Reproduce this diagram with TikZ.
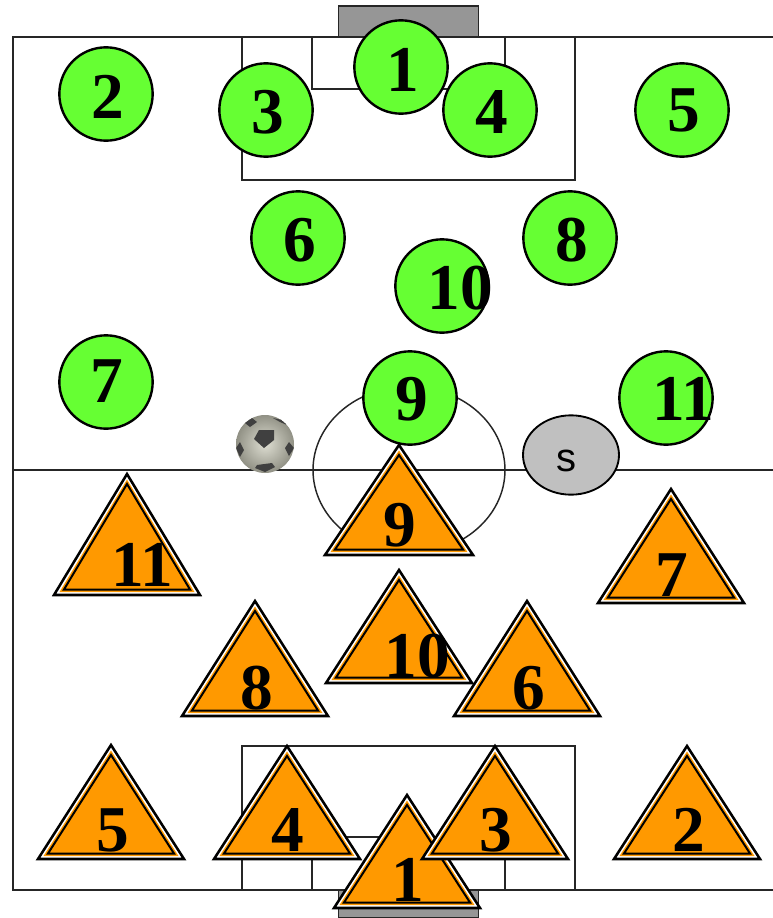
\documentclass[tikz,border=0pt]{standalone}
\usepackage{fontspec}
\usetikzlibrary{shapes.geometric}
\setmainfont{Liberation Serif}
\newfontfamily\labelsans{Liberation Sans}
\definecolor{pgreen}{HTML}{66FF33}
\definecolor{porange}{HTML}{FF9900}
\definecolor{goalgray}{HTML}{969696}
\definecolor{subgray}{HTML}{C0C0C0}
\definecolor{balllight}{HTML}{DEDED2}
\definecolor{balldark}{HTML}{8E8E82}
\tikzset{
  fieldline/.style={draw=black!85,line width=1.1pt},
  goalbox/.style={fieldline,fill=goalgray},
  greenplayer/.style={circle,draw=black,line width=1.8pt,fill=pgreen,minimum size=70pt,inner sep=0pt},
  digit/.style={inner sep=0pt,font=\fontsize{49}{49}\selectfont\bfseries},
  ballspot/.style={fill=black!75},
}
% \tri{name}{apex x}{apex y}{base y}{half width}{number x}{number y}{number}
\newcommand{\tri}[8]{%
  \path[fill=white,draw=black,line width=1.9pt,line join=miter] (#2,#3) -- (#2-#5,#4) -- (#2+#5,#4) -- cycle;
  \path[fill=porange,draw=none] (#2,#3+5.5) -- (#2-#5+5.5,#4-3) -- (#2+#5-5.5,#4-3) -- cycle;
  \path[fill=porange,draw=black,line width=1.5pt,line join=miter] (#2,#3+10) -- (#2-#5+10,#4-5.5) -- (#2+#5-10,#4-5.5) -- cycle;
  \node[digit] (#1n) at (#6,#7) {#8};
}
\begin{document}
\begin{tikzpicture}[x=0.75pt,y=-0.75pt]
\useasboundingbox (0,0) rectangle (773,918);
% field
\draw[fieldline] (773,37) -- (13,37) -- (13,890) -- (773,890);
\draw[fieldline] (13,470) -- (773,470);
\draw[fieldline] (409,470) ellipse[x radius=96,y radius=83.5];
\draw[fieldline] (242,37) rectangle (575,180);
\draw[fieldline] (312,37) rectangle (505,89);
\draw[fieldline] (242,746) rectangle (575,890);
\draw[fieldline] (312,837) rectangle (505,890);
\draw[goalbox] (338.5,6) rectangle (478.5,37);
\draw[goalbox] (338.5,890) rectangle (478.5,918);
% ball
\begin{scope}
\clip (265,444) circle[radius=29];
\shade[inner color=balllight,outer color=balldark] (265,444) circle[radius=30];
\fill[ballspot] (259,430) -- (274,430) -- (274,440) -- (264,448) -- (254,439) -- cycle;
\fill[ballspot] (240,442) -- (244,450) -- (240,457) -- (236,448) -- cycle;
\fill[ballspot] (289,442) -- (294,448) -- (289,456) -- (285,448) -- cycle;
\fill[ballspot] (257,465) -- (272,463) -- (275,467) -- (265,472) -- (255,468) -- cycle;
\fill[ballspot] (245,423) -- (252,418) -- (257,422) -- (250,427) -- cycle;
\fill[ballspot] (273,418) -- (282,420) -- (287,425) -- (280,422) -- cycle;
\end{scope}
% substitute
\node[ellipse,draw=black,line width=1.4pt,fill=subgray,minimum width=72pt,minimum height=59.5pt,inner sep=0pt] (sub) at (571,455) {};
\node[inner sep=0pt,font=\labelsans\fontsize{30}{30}\selectfont] (subt) at (566,461) {s};
% green players
\foreach \n/\x/\y/\tx/\ty/\lab in {c1/401/67/403/70/1,c3/266/110/268/112/3,c4/490/110/492/112/4,c2/106/94/108/97/2,c5/682/110/684/110/5,c6/298/238/300/240/6,c8/570/238/572/240/8,c10/442/286/460/288/10,c7/106/382/107/381/7,c9/410/398/412/399/9,c11/666/398/683/399/11}{
  \node[greenplayer] (\n) at (\x,\y) {};
  \node[digit] (\n t) at (\tx,\ty) {\lab};
}
% orange players
\tri{t11}{127}{474}{595}{73}{142}{565}{11}
\tri{t9}{399}{445}{555}{74}{400}{525}{9}
\tri{t7}{671}{489}{603}{73}{672}{575}{7}
\tri{t10}{399}{570}{683}{73}{417}{656}{10}
\tri{t8}{255}{601}{716}{73}{257}{688}{8}
\tri{t6}{527}{601}{716}{73}{529}{688}{6}
\tri{t5}{111}{745}{859}{73}{113}{830}{5}
\tri{t4}{287}{746}{859}{73}{288}{830}{4}
\tri{t2}{687}{746}{859}{73}{689}{830}{2}
\tri{t1}{407}{795}{908}{73}{408}{880}{1}
\tri{t3}{495}{746}{859}{73}{496}{830}{3}
\end{tikzpicture}
\end{document}
